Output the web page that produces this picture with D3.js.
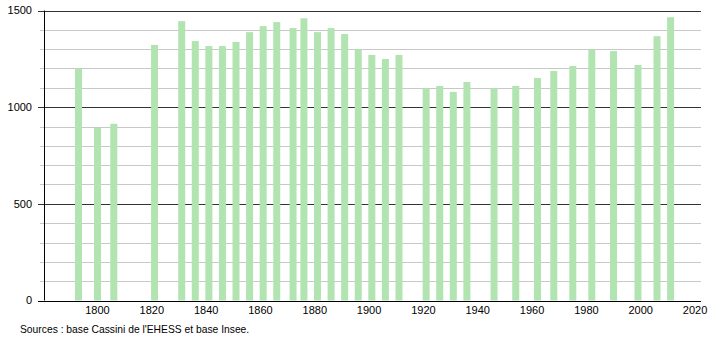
<!DOCTYPE html>
<html lang="fr">
  <head>
    <meta charset="UTF-8" />
    <title>Évolution démographique</title>
    <script src="https://d3js.org/d3.v7.min.js"></script>
    <style>
      body { margin: 0; background: #fff; }
      text { font-family: "Liberation Sans", Arial, sans-serif; font-size: 11px; fill: #000; }
    </style>
  </head>
  <body>
    <div id="chart"></div>
    <script>
      const years = [1793, 1800, 1806, 1821, 1831, 1836, 1841, 1846, 1851, 1856, 1861, 1866,
        1872, 1876, 1881, 1886, 1891, 1896, 1901, 1906, 1911, 1921, 1926, 1931, 1936,
        1946, 1954, 1962, 1968, 1975, 1982, 1990, 1999, 2006, 2011]
      const population = [1200, 893, 914, 1322, 1445, 1342, 1316, 1316, 1337, 1388, 1419, 1440,
        1409, 1460, 1388, 1409, 1378, 1299, 1270, 1249, 1270, 1098, 1110, 1079, 1130,
        1098, 1110, 1151, 1187, 1213, 1299, 1290, 1218, 1367, 1465]
      const xTicks = [1800, 1820, 1840, 1860, 1880, 1900, 1920, 1940, 1960, 1980, 2000, 2020]
      const majorTicks = [0, 500, 1000, 1500]
      const minorTicks = d3.range(0, 1501, 100)
      const source = "Sources : base Cassini de l'EHESS et base Insee."

      const width = 710
      const height = 340
      const mLeft = 44, mRight = 701, mTop = 10.5, mBottom = 300.5

      const svg = d3.select('#chart').append('svg')
        .attr('width', width)
        .attr('height', height)

      const x = d3.scaleLinear().domain([1780.3, 2022.2]).range([mLeft, mRight])
      const y = d3.scaleLinear().domain([0, 1500]).range([mBottom, mTop])

      // grille
      svg.append('g').selectAll('line')
        .data(minorTicks.filter(d => !majorTicks.includes(d)))
        .join('line')
        .attr('x1', mLeft - 4).attr('x2', mRight)
        .attr('y1', d => Math.round(y(d)) + 0.5).attr('y2', d => Math.round(y(d)) + 0.5)
        .attr('stroke', '#c8c8c8')

      svg.append('g').selectAll('line')
        .data(majorTicks)
        .join('line')
        .attr('x1', mLeft - 6).attr('x2', mRight)
        .attr('y1', d => Math.round(y(d)) + 0.5).attr('y2', d => Math.round(y(d)) + 0.5)
        .attr('stroke', '#333')

      // barres
      svg.append('g').selectAll('rect')
        .data(years)
        .join('rect')
        .attr('x', d => x(d) - 3.5)
        .attr('width', 7)
        .attr('y', (d, i) => y(population[i]))
        .attr('height', (d, i) => y(0) - y(population[i]))
        .attr('fill', '#b1e4b1')

      // axes
      svg.append('line')
        .attr('x1', mLeft + 0.5).attr('x2', mLeft + 0.5)
        .attr('y1', mTop).attr('y2', mBottom)
        .attr('stroke', '#000')
      svg.append('line')
        .attr('x1', mLeft - 6).attr('x2', mRight)
        .attr('y1', Math.round(y(0)) + 0.5).attr('y2', Math.round(y(0)) + 0.5)
        .attr('stroke', '#000')

      svg.append('g').selectAll('text')
        .data(majorTicks)
        .join('text')
        .attr('x', 32)
        .attr('y', d => y(d))
        .attr('dy', '0.35em')
        .attr('text-anchor', 'end')
        .text(d => d)

      svg.append('g').selectAll('text')
        .data(xTicks)
        .join('text')
        .attr('x', d => x(d))
        .attr('y', 314)
        .attr('text-anchor', 'middle')
        .text(d => d)

      svg.append('text')
        .attr('x', 20)
        .attr('y', 333)
        .style('font-size', '10.3px')
        .text(source)
    </script>
  </body>
</html>
